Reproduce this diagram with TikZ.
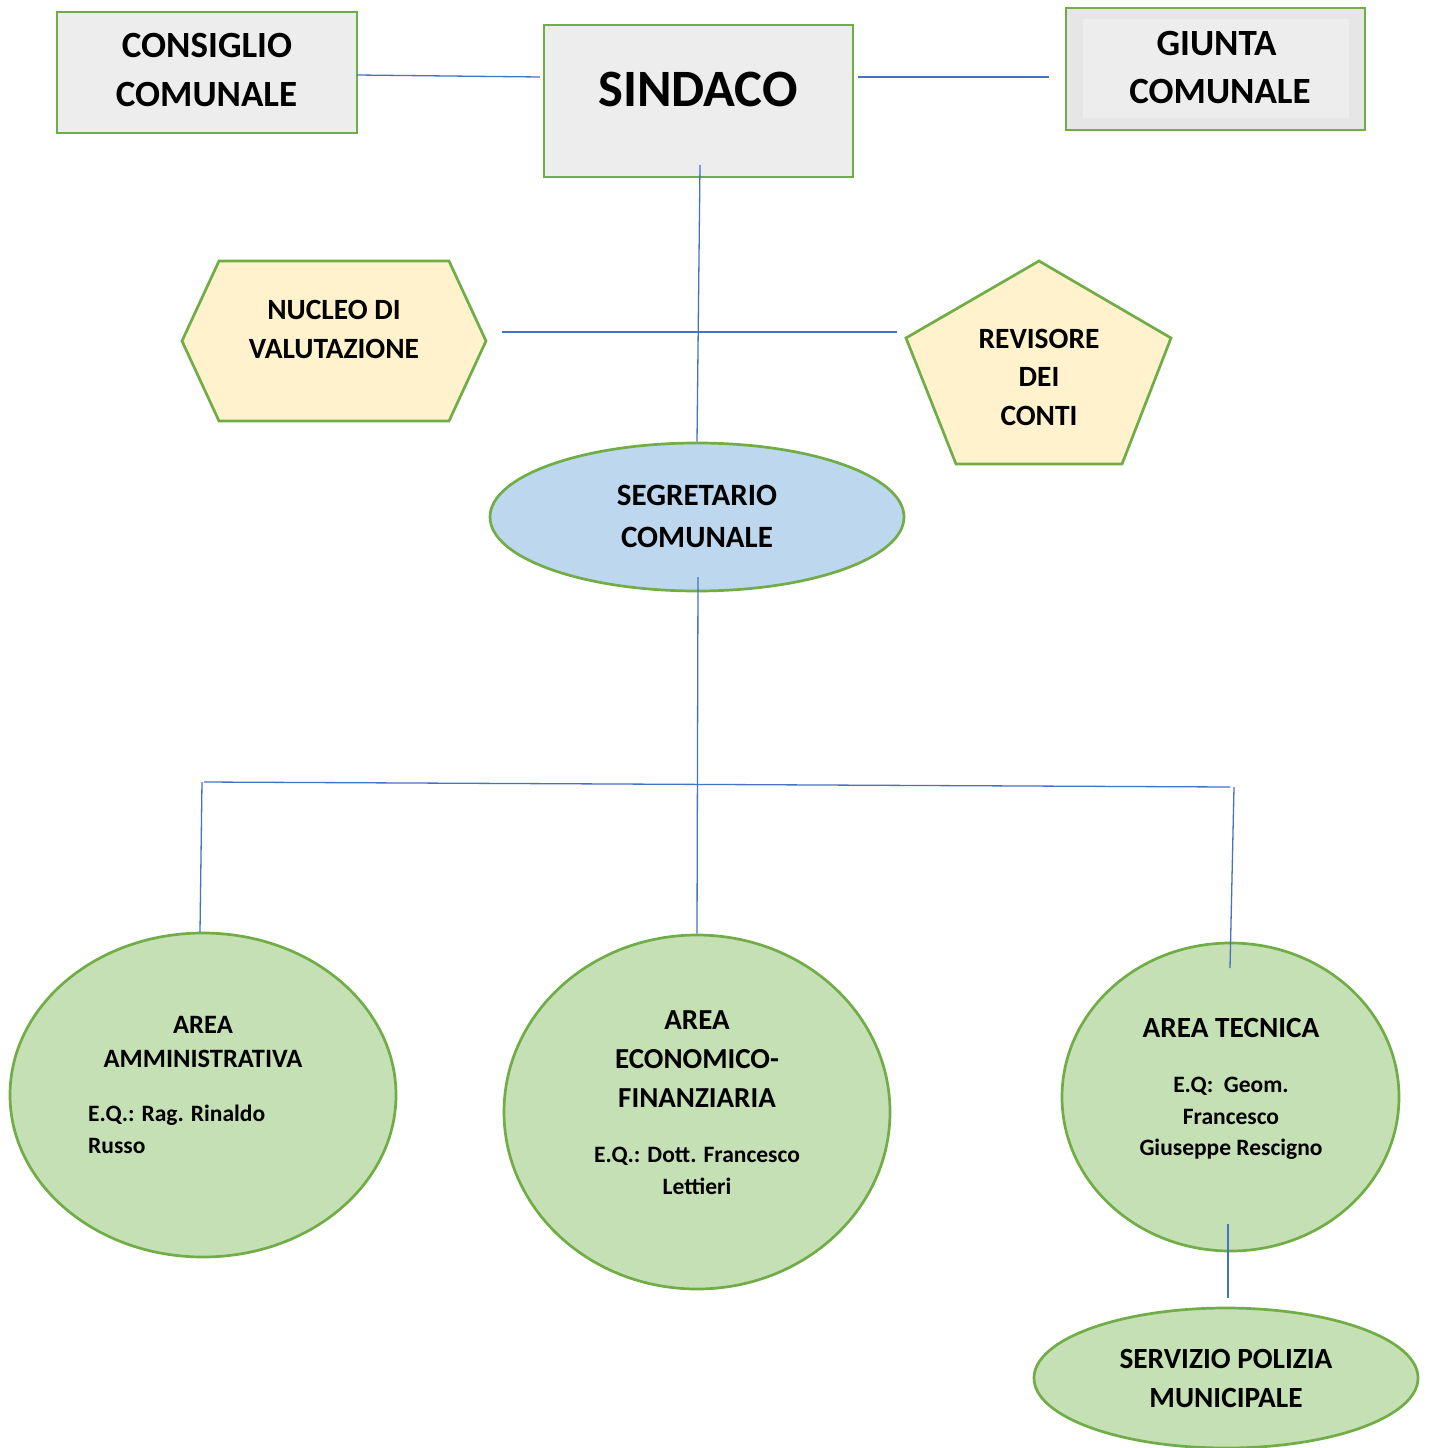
\documentclass[tikz,border=0pt]{standalone}
\usepackage{fontspec}
\setmainfont{Carlito}
\usetikzlibrary{shapes.geometric}
\definecolor{gborder}{HTML}{70AD47}
\definecolor{boxfill}{HTML}{EDEDED}
\definecolor{boxouter}{HTML}{E6E6E6}
\definecolor{yfill}{HTML}{FFF2CC}
\definecolor{bfill}{HTML}{BDD7EE}
\definecolor{gfill}{HTML}{C5E0B4}
\definecolor{lblue}{HTML}{4472C4}
\tikzset{
  boxnode/.style={draw=gborder, line width=2.7pt, fill=boxfill, rectangle, inner sep=0pt},
  ellnode/.style={draw=gborder, line width=2.7pt, ellipse, inner sep=0pt},
  polyshape/.style={draw=gborder, line width=2.7pt, fill=yfill, line join=miter},
  conn/.style={draw=lblue, line width=1.3pt},
  txt/.style={inner sep=0pt, text=black, font=\bfseries},
}
\newcommand\lab[5]{\node[txt, anchor=base, font=\bfseries\fontsize{#4}{#4}\selectfont] (#1) at (#2,{#3+0.322*#4}) {#5};}
\newcommand\labw[5]{\node[txt, anchor=base west, font=\bfseries\fontsize{#4}{#4}\selectfont] (#1) at (#2,{#3+0.322*#4}) {#5};}
\begin{document}
\begin{tikzpicture}[x=1pt,y=-1pt]
\useasboundingbox (0,0) rectangle (1429,1448);
\fill[white] (0,0) rectangle (1429,1448);

% boxes
\node[boxnode, minimum width=300pt, minimum height=121pt] (consiglio) at (207,72.5) {};
\node[boxnode, minimum width=309pt, minimum height=152pt] (sindaco) at (698.5,101) {};
\node[boxnode, fill=boxouter, minimum width=299pt, minimum height=122pt] (giunta) at (1215.5,69) {};
\fill[boxfill] (1083,19) rectangle (1349,118);

% hexagon and pentagon
\draw[polyshape] (219,261) -- (449,261) -- (486,341) -- (449,421) -- (219,421) -- (182,341) -- cycle;
\coordinate (nucleo) at (334,341);
\draw[polyshape] (1039,261) -- (1171,338) -- (1122,464) -- (956,464) -- (906,338) -- cycle;
\coordinate (revisore) at (1039,362);

% ellipses
\node[ellnode, fill=bfill, minimum width=414pt, minimum height=148pt] (segretario) at (697,517) {};
\node[ellnode, fill=gfill, minimum width=386pt, minimum height=324pt] (amm) at (203,1095) {};
\node[ellnode, fill=gfill, minimum width=386pt, minimum height=354pt] (econ) at (697,1112) {};
\node[ellnode, fill=gfill, minimum width=337pt, minimum height=308pt] (tecnica) at (1230.5,1097) {};
\node[ellnode, fill=gfill, minimum width=384pt, minimum height=140pt] (polizia) at (1226,1378) {};

% connector end points
\coordinate (c1) at (357,75);   \coordinate (c2) at (540,77);
\coordinate (g1) at (858,77);   \coordinate (g2) at (1049,77);
\coordinate (s1) at (700,165);
\coordinate (h1) at (502,332);  \coordinate (h2) at (897,332);
\coordinate (d1) at (698,577);
\coordinate (b1) at (204,782);  \coordinate (b2) at (1230,787);
\coordinate (l1) at (202,782);  \coordinate (l2) at (200,932);
\coordinate (r1) at (1234,787); \coordinate (r2) at (1230,968);
\coordinate (p1) at (1228,1224); \coordinate (p2) at (1228,1298);

\draw[conn] (c1) -- (c2);
\draw[conn] (g1) -- (g2);
\draw[conn] (s1) -- (segretario.north);
\draw[conn] (h1) -- (h2);
\draw[conn] (d1) -- (econ.north);
\draw[conn] (b1) -- (b2);
\draw[conn] (l1) -- (l2);
\draw[conn] (r1) -- (r2);
\draw[conn] (p1) -- (p2);

% texts
\lab{t1}{207}{46}{37}{CONSIGLIO}
\lab{t2}{206.5}{95}{37}{COMUNALE}
\lab{t3}{698}{90}{52.5}{SINDACO}
\lab{t4}{1216.5}{44}{37}{GIUNTA}
\lab{t5}{1220}{92}{37}{COMUNALE}
\lab{t6}{334}{310}{29.4}{NUCLEO DI}
\lab{t7}{334}{349}{29.4}{VALUTAZIONE}
\lab{t8}{1039}{339}{29.4}{REVISORE}
\lab{t9}{1039}{377}{29.4}{DEI}
\lab{t10}{1039}{416}{29.4}{CONTI}
\lab{t11}{697}{496}{31}{SEGRETARIO}
\lab{t12}{697}{538}{31}{COMUNALE}
\lab{t13}{203}{1025}{26.5}{AREA}
\lab{t14}{203}{1059}{26.5}{AMMINISTRATIVA}
\labw{t15}{88}{1114}{23.5}{E.Q.: Rag. Rinaldo}
\labw{t16}{88}{1146}{23.5}{Russo}
\lab{t17}{697}{1020}{29}{AREA}
\lab{t18}{697}{1059}{29}{ECONOMICO-}
\lab{t19}{697}{1098}{29}{FINANZIARIA}
\lab{t20}{697}{1155}{23.5}{E.Q.: Dott. Francesco}
\lab{t21}{697}{1187}{23.5}{Lettieri}
\lab{t22}{1231}{1028}{29.3}{AREA TECNICA}
\lab{t23}{1231}{1085}{23.5}{E.Q:\ \ Geom.}
\lab{t24}{1231}{1117}{23.5}{Francesco}
\lab{t25}{1231}{1148}{23.5}{Giuseppe Rescigno}
\lab{t26}{1226}{1359}{29.3}{SERVIZIO POLIZIA}
\lab{t27}{1226}{1398}{29.3}{MUNICIPALE}
\end{tikzpicture}
\end{document}
